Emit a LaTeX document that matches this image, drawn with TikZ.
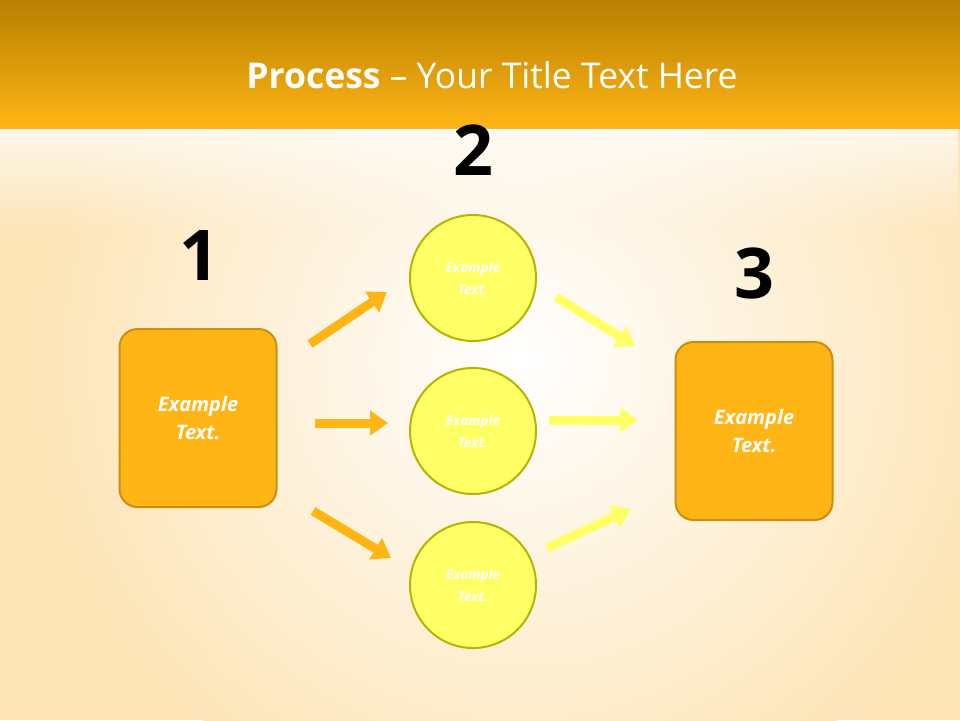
\documentclass[tikz,border=0pt]{standalone}
\usepackage{fontspec}
\setmainfont{Open Sans}
\usetikzlibrary{arrows.meta,shadings,fadings}
\definecolor{org}{HTML}{FFB515}
\definecolor{orgd}{HTML}{C98F10}
\definecolor{yel}{HTML}{FFFF66}
\definecolor{yeld}{HTML}{B5B500}
\definecolor{bgc}{HTML}{FDE5B8}
\tikzset{
 box/.style={draw=orgd,line width=2pt,fill=org,rounded corners=18pt,minimum width=157pt,minimum height=178pt,text=white,font=\bfseries\itshape\fontsize{20}{28}\selectfont,align=center},
 circ/.style={circle,draw=yeld,line width=2pt,fill=yel,minimum size=126pt,text=white,font=\bfseries\itshape\fontsize{13.5}{22}\selectfont,align=center},
 num/.style={font=\bfseries\fontsize{70}{70}\selectfont,text=black},
 oarr/.style={draw=org,line width=9pt,-{Triangle[length=18pt,width=24pt]}},
 yarr/.style={draw=yel,line width=9pt,-{Triangle[length=18pt,width=24pt]}}
}
\begin{document}
\begin{tikzpicture}[x=1pt,y=-1pt]
\useasboundingbox (0,0) rectangle (960,720);
\fill[bgc] (0,0) rectangle (960,720);
\shade[inner color=white,outer color=bgc] (520,360) circle (480);
\fill[white,opacity=0.7,path fading=south] (0,128) rectangle (960,230);
\shade[top color={rgb,255:red,184;green,128;blue,0},bottom color=org] (0,0) rectangle (960,128);
\node[text=white,font=\fontsize{35.5}{40}\selectfont] (title) at (492,75) {\textbf{Process} – Your Title Text Here};
\node[box] (b1) at (198,418) {Example\\Text.};
\node[box] (b3) at (754,431) {Example\\Text.};
\node[circ] (c1) at (473,278) {Example\\Text.};
\node[circ] (c2) at (473,431) {Example\\Text.};
\node[circ] (c3) at (473,585) {Example\\Text.};
\node[num] (n1) at (199,256) {1};
\node[num] (n2) at (473,150) {2};
\node[num] (n3) at (754,273) {3};
\coordinate (a1s) at (310,344); \coordinate (a1e) at (387,292);
\coordinate (a2s) at (315,423); \coordinate (a2e) at (388,423);
\coordinate (a3s) at (313,511); \coordinate (a3e) at (391,558);
\coordinate (y1s) at (556,297); \coordinate (y1e) at (635,346);
\coordinate (y2s) at (549,420); \coordinate (y2e) at (638,420);
\coordinate (y3s) at (547,548); \coordinate (y3e) at (631,509);
\draw[oarr] (a1s) -- (a1e);
\draw[oarr] (a2s) -- (a2e);
\draw[oarr] (a3s) -- (a3e);
\draw[yarr] (y1s) -- (y1e);
\draw[yarr] (y2s) -- (y2e);
\draw[yarr] (y3s) -- (y3e);
\end{tikzpicture}
\end{document}
